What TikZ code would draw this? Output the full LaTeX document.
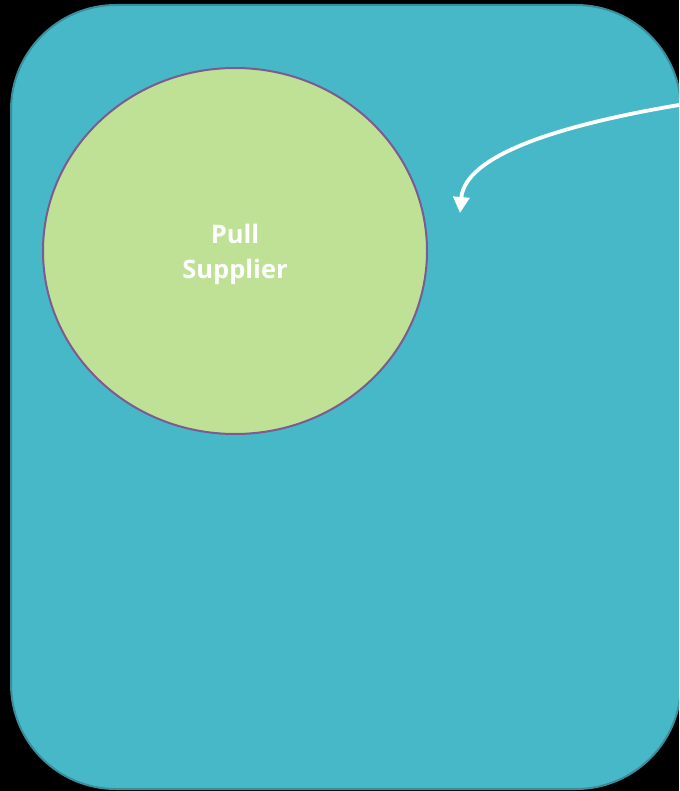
\documentclass[tikz,border=0pt]{standalone}
\usepackage{fontspec}
\setmainfont{Open Sans}
\usetikzlibrary{arrows.meta,shapes.geometric}
\definecolor{bgteal}{HTML}{47B8C8}
\definecolor{tealedge}{HTML}{3A8E9B}
\definecolor{leaf}{HTML}{BFE196}
\definecolor{plum}{HTML}{7E5A8E}
\tikzset{
  panel/.style={fill=bgteal, draw=tealedge, line width=2pt, rounded corners=105pt},
  bubble/.style={ellipse, fill=leaf, draw=plum, line width=2pt, minimum width=384pt, minimum height=366pt, inner sep=0pt},
  label/.style={text=white, font=\bfseries\fontsize{25.5}{35}\selectfont, align=center},
  flow/.style={draw=white, line width=3.8pt, -{Triangle[length=16pt,width=16pt]}}
}
\begin{document}
\begin{tikzpicture}[x=1pt,y=-1pt]
\useasboundingbox (0,0) rectangle (679,791);
\fill[black] (0,0) rectangle (679,791);
\begin{scope}
\clip (0,0) rectangle (679,791);
\draw[panel] (11,5) rectangle (681,789);
\end{scope}
\node[bubble] (sup) at (235,251) {};
\node[label] (txt) at (235,254) {Pull\\Supplier};
\coordinate (src) at (679,105);
\coordinate (dst) at (460,213);
\draw[flow] (src) .. controls (560,125) and (465,155) .. (dst);
\end{tikzpicture}
\end{document}
